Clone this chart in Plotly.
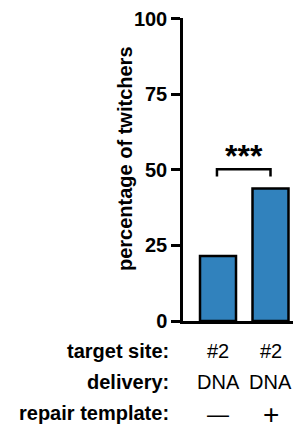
import plotly.graph_objects as go

# ---- data ----
categories = ["group1", "group2"]
values = [21.5, 43.8]
y_ticks = [0, 25, 50, 75, 100]
row_labels = ["target site:", "delivery:", "repair template:"]
target_site = ["#2", "#2"]
delivery = ["DNA", "DNA"]
repair_template = ["\u2014", "+"]
significance = "***"

# page has an 8px body margin; work in reference pixels and subtract it
OFF = 8
W, H = 301 - OFF, 429 - OFF
L, R, T, B = 183 - OFF, 1, 18 - OFF, 108
plot_h = H - T - B
plot_w = W - L - R

x_pos = [0, 1]
fig = go.Figure()
fig.add_trace(go.Bar(
    x=x_pos, y=values, width=0.686,
    marker=dict(color="#3182bd", line=dict(color="black", width=2.5)),
))

def py(pix):  # reference pixel y -> paper
    return (H - B - (pix - OFF)) / plot_h

def px(pix):  # reference pixel x -> paper
    return ((pix - OFF) - L) / plot_w

fam = "Liberation Sans, Arial, sans-serif"
annotations = []
rows = [target_site, delivery, repair_template]
row_y = [351, 382, 413]
for r, (lab, vals, yy) in enumerate(zip(row_labels, rows, row_y)):
    annotations.append(dict(x=px(171), y=py(yy), xref="paper", yref="paper", text="<b>%s</b>" % lab,
                            showarrow=False, xanchor="right", yanchor="middle",
                            font=dict(size=20, color="black", family=fam)))
    for xi, v in zip(x_pos, vals):
        size = 20
        yv = yy
        if r == 2:
            size = 22 if v != "+" else 28
            yv = yy + 1
        annotations.append(dict(x=xi, y=py(yv), xref="x", yref="paper", text=v,
                                showarrow=False, xanchor="center", yanchor="middle",
                                font=dict(size=size, color="black", family=fam)))

# y-axis label
annotations.append(dict(x=px(125), y=py(159), xref="paper", yref="paper",
                        text="<b>percentage of twitchers</b>", textangle=-90, showarrow=False,
                        xanchor="center", yanchor="middle",
                        font=dict(size=20, color="black", family=fam)))

# significance
annotations.append(dict(x=0.5, y=47.8, xref="x", yref="y", text="<b>%s</b>" % significance,
                        showarrow=False, xanchor="center", yanchor="bottom",
                        font=dict(size=32, color="black", family=fam)))

fig.add_shape(type="path", xref="x", yref="y",
              path="M -0.02,47.8 L -0.02,50.2 L 1.0,50.2 L 1.0,47.8",
              line=dict(color="black", width=2.5))

fig.update_layout(
    width=W, height=H, margin=dict(l=L, r=R, t=T, b=B),
    plot_bgcolor="white", paper_bgcolor="white", showlegend=False,
    annotations=annotations,
    xaxis=dict(range=[-0.667, 1.562], showticklabels=False, ticks="", showgrid=False,
               zeroline=False, showline=True, linecolor="black", linewidth=2.5),
    yaxis=dict(range=[0, 100.2], tickvals=y_ticks, ticks="outside", ticklen=9, tickwidth=2.5,
               tickcolor="black", showgrid=False, zeroline=False, showline=True,
               linecolor="black", linewidth=2.5, ticklabeloverflow="allow",
               tickfont=dict(size=20, color="black", family=fam, weight="bold")),
)
fig.write_html("out.html")
